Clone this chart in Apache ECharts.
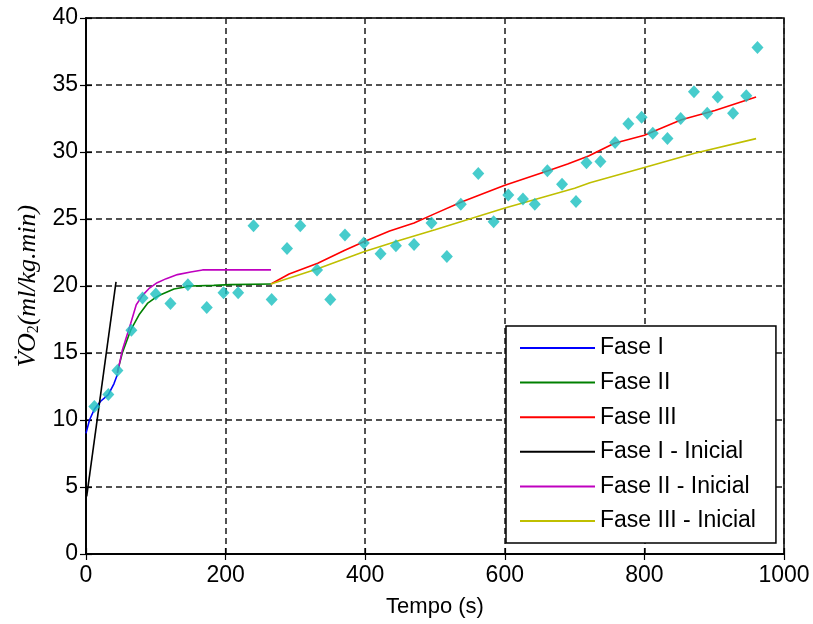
<!DOCTYPE html>
<html>
<head>
<meta charset="utf-8">
<script src="https://cdn.jsdelivr.net/npm/echarts@6/dist/echarts.min.js"></script>
<style>
  html, body { margin: 0; padding: 0; background: #fff; }
  #chart { width: 813px; height: 624px; }
</style>
</head>
<body>
<div id="chart"></div>
<script>
// Measured VO2 samples (breath averages)
const scatterTime = [12,32,45,65,81,100,121,146,173,197,218,240,266,288,307,331,350,371,398,422,444,470,495,517,537,562,584,605,626,643,661,682,702,717,737,758,777,796,812,833,852,871,890,905,927,946,962];
const scatterVO2  = [11.0,11.9,13.7,16.7,19.1,19.4,18.7,20.1,18.4,19.5,19.5,24.5,19.0,22.8,24.5,21.2,19.0,23.8,23.2,22.4,23.0,23.1,24.7,22.2,26.1,28.4,24.8,26.8,26.5,26.1,28.6,27.6,26.3,29.2,29.3,30.7,32.1,32.6,31.4,31.0,32.5,34.5,32.9,34.1,32.9,34.2,37.8];

// Fitted phases
const fase1Time = [0, 5, 12, 21, 32, 40, 45];
const fase1VO2  = [9.0, 10.0, 10.8, 11.4, 11.9, 12.7, 13.4];

const fase2Time = [45, 52, 64, 76, 88, 100, 107, 126, 150, 183, 207, 265];
const fase2VO2  = [13.6, 15.0, 16.7, 17.85, 18.7, 19.15, 19.35, 19.78, 20.0, 20.05, 20.1, 20.15];

const fase3Time = [265, 291, 332, 370, 398, 435, 470, 500, 537, 599, 662, 690, 720, 757, 800, 853, 901, 960];
const fase3VO2  = [20.15, 20.9, 21.7, 22.65, 23.3, 24.1, 24.7, 25.4, 26.25, 27.5, 28.6, 29.1, 29.7, 30.65, 31.25, 32.4, 33.1, 34.1];

// Initial-guess curves
const fase1iTime = [1, 43];
const fase1iVO2  = [4.3, 20.3];

const fase2iTime = [45, 52, 64, 72, 81, 90, 102, 115, 131, 150, 167, 200, 265];
const fase2iVO2  = [13.5, 15.2, 17.2, 18.6, 19.3, 19.8, 20.25, 20.55, 20.85, 21.05, 21.2, 21.2, 21.2];

const fase3iTime = [265, 331, 398, 451, 500, 599, 700, 722, 800, 872, 960];
const fase3iVO2  = [20.15, 21.27, 22.56, 23.43, 24.2, 25.8, 27.3, 27.7, 28.85, 29.9, 31.0];

const xTicks = { min: 0, max: 1000, interval: 200 };
const yTicks = { min: 0, max: 40, interval: 5 };

const legendNames = ['Fase I', 'Fase II', 'Fase III', 'Fase I - Inicial', 'Fase II - Inicial', 'Fase III - Inicial'];
const lineColors  = ['#0000FF', '#008000', '#FF0000', '#000000', '#BF00BF', '#BFBF00'];
const lineTimes   = [fase1Time, fase2Time, fase3Time, fase1iTime, fase2iTime, fase3iTime];
const lineValues  = [fase1VO2, fase2VO2, fase3VO2, fase1iVO2, fase2iVO2, fase3iVO2];

const zip = (a, b) => a.map((t, i) => [t, b[i]]);

const sansFont = 'Liberation Sans, Arial, sans-serif';
const gridDash = { color: '#1a1a1a', width: 1.5, type: [6, 4] };
const plainNumber = v => String(v);

const lineSeries = legendNames.map((name, i) => ({
  name: name,
  type: 'line',
  data: zip(lineTimes[i], lineValues[i]),
  showSymbol: false,
  symbol: 'none',
  smooth: false,
  lineStyle: { color: lineColors[i], width: 1.6 },
  itemStyle: { color: lineColors[i] },
  z: 3,
  silent: true,
  animation: false
}));

const chart = echarts.init(document.getElementById('chart'), null, { renderer: 'canvas' });

chart.setOption({
  animation: false,
  backgroundColor: '#fff',
  grid: {
    left: 86, right: 29, top: 18, bottom: 70,
    show: true, borderColor: '#000', borderWidth: 1.5, backgroundColor: '#fff'
  },
  legend: {
    orient: 'vertical',
    left: 506, top: 326,
    data: legendNames.map(n => ({ name: n, icon: 'rect' })),
    itemWidth: 75, itemHeight: 2, itemGap: 8.6,
    padding: [9, 20, 9, 14],
    backgroundColor: '#fff',
    borderColor: '#000', borderWidth: 1.5,
    textStyle: { fontFamily: sansFont, fontSize: 23, color: '#000', lineHeight: 26 },
    selectedMode: false
  },
  xAxis: [{
    type: 'value', min: xTicks.min, max: xTicks.max, interval: xTicks.interval,
    name: 'Tempo (s)', nameLocation: 'middle', nameGap: 42,
    nameTextStyle: { fontFamily: sansFont, fontSize: 22, color: '#000' },
    axisLine: { show: true, onZero: false, lineStyle: { color: '#000', width: 1.5 } },
    axisTick: { show: true, inside: true, length: 6, lineStyle: { color: '#000', width: 1.2 } },
    axisLabel: { fontFamily: sansFont, fontSize: 23, color: '#000', margin: 10, formatter: plainNumber },
    splitLine: { show: true, lineStyle: gridDash }
  }, {
    type: 'value', position: 'top', min: xTicks.min, max: xTicks.max, interval: xTicks.interval,
    axisLine: { show: true, lineStyle: { color: '#000', width: 1.5 } },
    axisTick: { show: true, inside: true, length: 6, lineStyle: { color: '#000', width: 1.2 } },
    axisLabel: { show: false },
    splitLine: { show: false }
  }],
  yAxis: [{
    type: 'value', min: yTicks.min, max: yTicks.max, interval: yTicks.interval,
    name: '{v|V\u0307O}{s|2}{v|(ml/kg.min)}', nameLocation: 'middle', nameGap: 44,
    nameTextStyle: {
      color: '#000',
      rich: {
        v: { fontFamily: 'Liberation Serif, DejaVu Serif, serif', fontStyle: 'italic', fontSize: 26, color: '#000' },
        s: { fontFamily: 'Liberation Serif, DejaVu Serif, serif', fontSize: 16, color: '#000', padding: [10, 0, 0, 0] }
      }
    },
    axisLine: { show: true, onZero: false, lineStyle: { color: '#000', width: 1.5 } },
    axisTick: { show: true, inside: true, length: 6, lineStyle: { color: '#000', width: 1.2 } },
    axisLabel: { fontFamily: sansFont, fontSize: 23, color: '#000', margin: 8, formatter: plainNumber },
    splitLine: { show: true, lineStyle: gridDash }
  }, {
    type: 'value', position: 'right', min: yTicks.min, max: yTicks.max, interval: yTicks.interval,
    axisLine: { show: true, lineStyle: { color: '#000', width: 1.5 } },
    axisTick: { show: true, inside: true, length: 6, lineStyle: { color: '#000', width: 1.2 } },
    axisLabel: { show: false },
    splitLine: { show: false }
  }],
  series: lineSeries.concat([{
    name: 'VO2',
    type: 'scatter',
    data: zip(scatterTime, scatterVO2),
    symbol: 'diamond',
    symbolSize: [12, 13],
    itemStyle: { color: '#19BFBF' },
    z: 4,
    silent: true
  }])
});
</script>
</body>
</html>
